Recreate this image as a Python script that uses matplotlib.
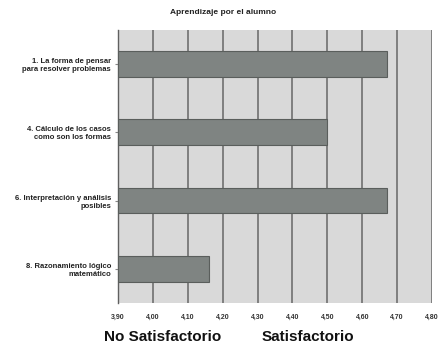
import matplotlib
matplotlib.use("Agg")
import matplotlib.pyplot as plt

plt.rcParams['font.family'] = ['Liberation Sans', 'DejaVu Sans']

title = "Aprendizaje por el alumno"
categories = [
    "1. La forma de pensar\npara resolver problemas",
    "4. Cálculo de los casos\ncomo son los formas",
    "6. Interpretación y análisis\nposibles",
    "8. Razonamiento lógico\nmatemático",
]
values = [4.67, 4.50, 4.67, 4.16]
ticks = [3.90, 4.00, 4.10, 4.20, 4.30, 4.40, 4.50, 4.60, 4.70, 4.80]
tick_labels = ["3,90", "4,00", "4,10", "4,20", "4,30", "4,40", "4,50", "4,60", "4,70", "4,80"]

fig = plt.figure(figsize=(4.44, 3.47), dpi=100)
ax = fig.add_axes([0.266, 0.127, 0.707, 0.787])
ax.set_facecolor('#d9d9d9')

y = list(range(len(categories)))
ax.barh(y, [v - ticks[0] for v in values], left=ticks[0], height=0.38,
        color='#7f8482', edgecolor='#5a5e5c', linewidth=0.8, zorder=3)
ax.set_xlim(ticks[0], ticks[-1])
ax.set_ylim(len(categories) - 0.5, -0.5)
ax.set_xticks(ticks)
ax.set_xticklabels(tick_labels, fontsize=5, fontweight='bold', color='#333333')
ax.set_yticks(y)
ax.set_yticklabels(categories, fontsize=5.5, fontweight='bold', color='#222222')
ax.xaxis.grid(True, color='#707070', linewidth=1.2, zorder=1)
ax.tick_params(axis='x', length=0, pad=8)
ax.tick_params(axis='y', length=2, pad=3, color='#888888')
for s in ['top', 'right', 'bottom']:
    ax.spines[s].set_visible(False)
ax.spines['left'].set_color('#606060')
ax.spines['left'].set_linewidth(1.0)

fig.text(0.502, 0.963, title, ha='center', va='center', fontsize=6,
         fontweight='bold', color='#222222')
fig.text(0.367, 0.029, "No Satisfactorio", ha='center', va='center',
         fontsize=11, fontweight='bold', color='#111111')
fig.text(0.694, 0.029, "Satisfactorio", ha='center', va='center',
         fontsize=11, fontweight='bold', color='#111111')

fig.savefig("out.png", dpi=100)
